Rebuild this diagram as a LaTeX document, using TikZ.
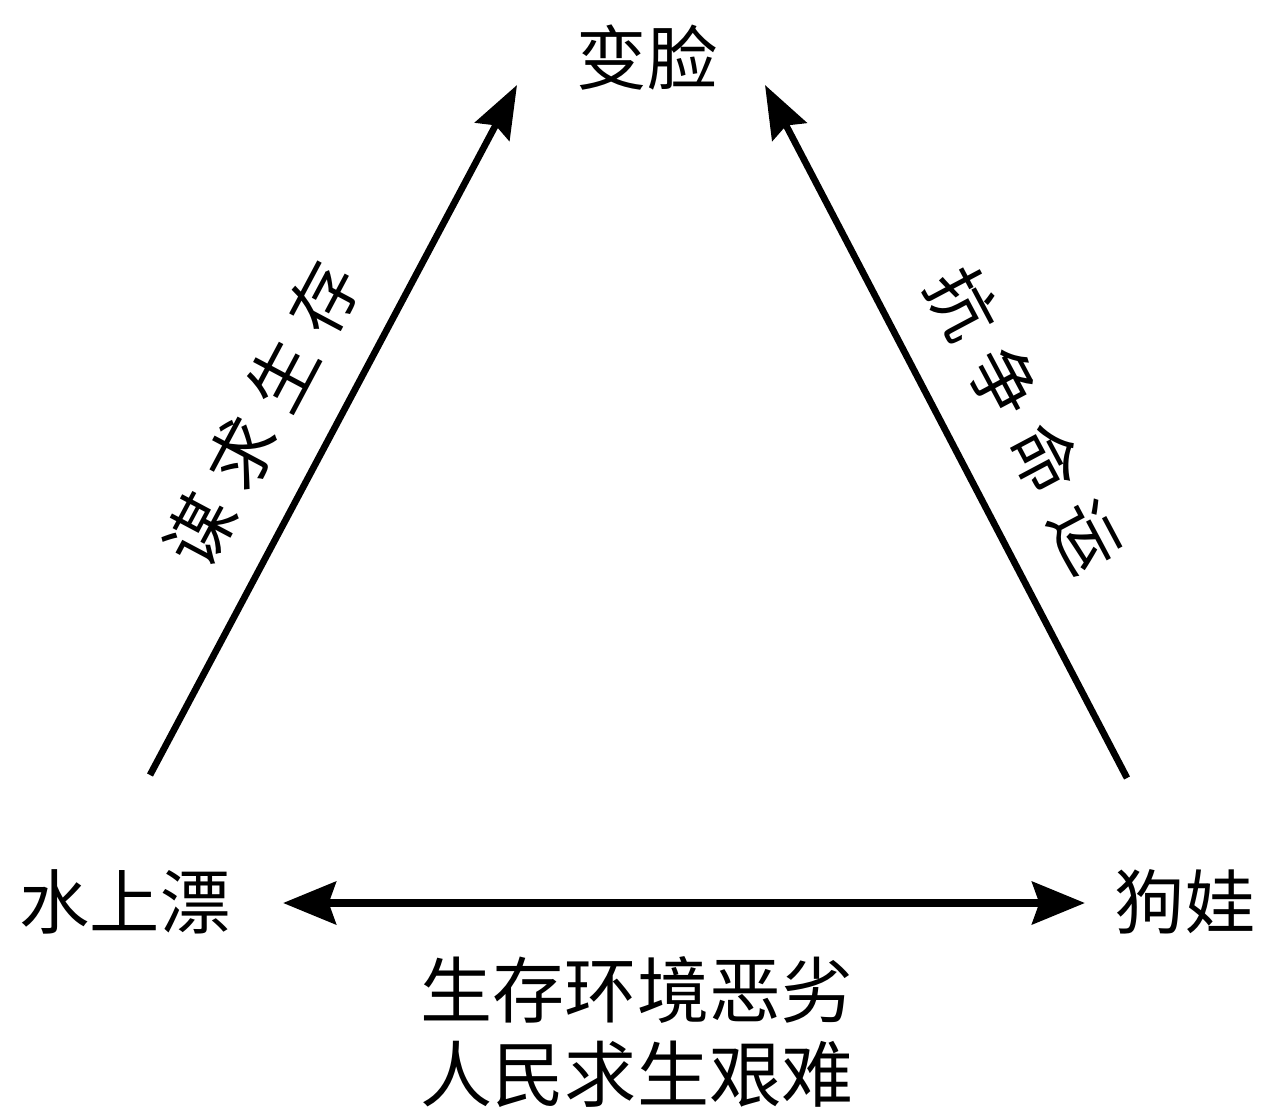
\documentclass[tikz,border=0pt]{standalone}
\usepackage{fontspec}
\setmainfont{Noto Sans CJK SC}
\usetikzlibrary{arrows.meta}
\tikzset{
  lbl/.style={inner sep=0pt, font=\fontsize{40}{48}\selectfont},
  elbl/.style={inner sep=0pt, font=\fontsize{39}{44}\selectfont},
  conn/.style={line width=3.8pt, -{Stealth[length=30pt,width=22pt,inset=4pt]}},
  dconn/.style={line width=4.8pt, {Stealth[length=30pt,width=24pt,inset=4pt]}-{Stealth[length=30pt,width=24pt,inset=4pt]}}
}
\begin{document}
\begin{tikzpicture}[x=0.02cm,y=-0.02cm]
\useasboundingbox (0,0) rectangle (1266,1111);
\node[lbl] (top) at (647,58) {变脸};
\node[lbl] (left) at (125,902) {水上漂};
\node[lbl] (right) at (1185,902) {狗娃};
\node[lbl, align=center, font=\fontsize{41}{48}\selectfont] (bottom) at (637,1032) {生存环境恶劣\\人民求生艰难};
\coordinate (ls) at (150,775);
\coordinate (le) at (517,85);
\coordinate (rs) at (1127,778);
\coordinate (re) at (765,85);
\coordinate (hl) at (283,903);
\coordinate (hr) at (1085,903);
\draw[conn] (ls) -- (le);
\draw[conn] (rs) -- (re);
\draw[dconn] (hl) -- (hr);
\node[elbl, rotate=62] (ll) at (262,414) {谋\hspace{11pt}求\hspace{11pt}生\hspace{11pt}存};
\node[elbl, rotate=-62] (rl) at (1025,420) {抗\hspace{11pt}争\hspace{11pt}命\hspace{11pt}运};
\end{tikzpicture}
\end{document}
